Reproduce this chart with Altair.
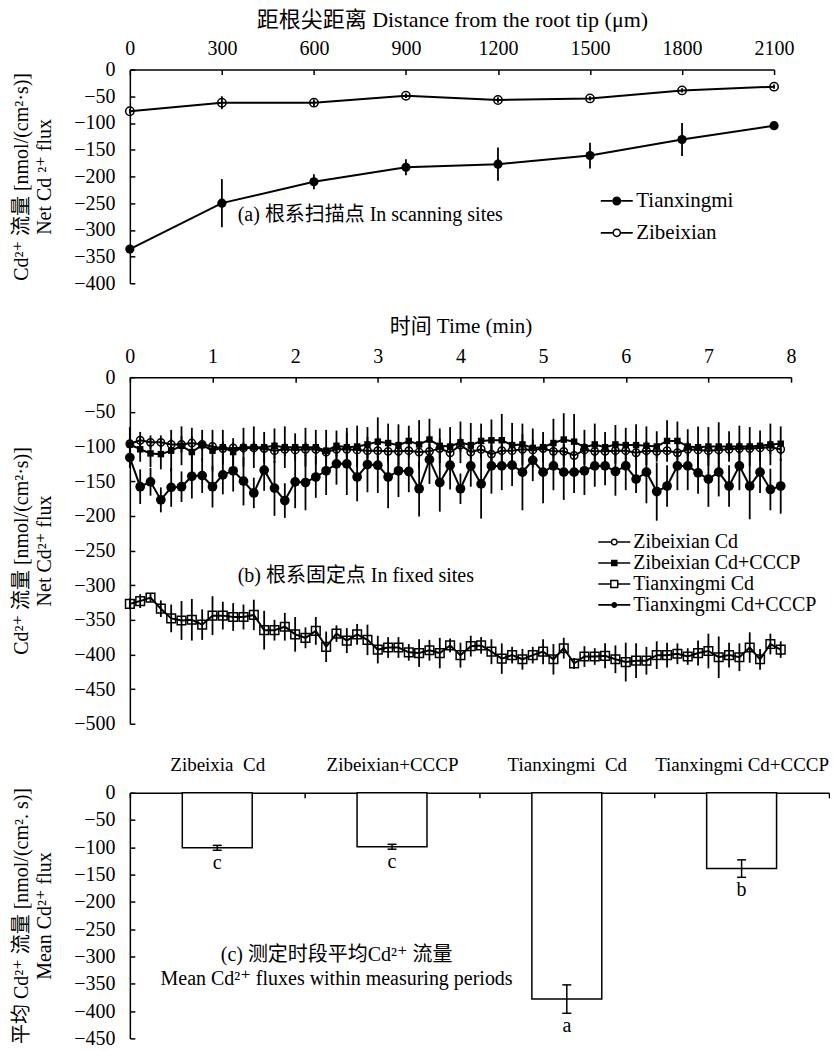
import altair as alt
import pandas as pd

FONT = "Liberation Serif, Noto Sans CJK SC, DejaVu Serif"
K = "#000000"

# ---------------- (a) scanning sites ----------------
a_dist = [0, 300, 600, 900, 1200, 1500, 1800, 2100]
a_tx = [-336, -250, -210, -183, -177, -161, -131, -105]
a_tx_err = [5, 45, 14, 15, 31, 24, 31, 5]
a_zb = [-78, -62, -62, -49, -57, -54, -39, -32]
a_zb_err = [4, 12, 6, 4, 5, 4, 4, 4]
a_series = ["Tianxingmi", "Zibeixian"]
a_yticks = [0, -50, -100, -150, -200, -250, -300, -350, -400]
a_xtitle = "距根尖距离 Distance from the root tip (μm)"
a_ytitle = ["Cd²⁺ 流量 [nmol/(cm²·s)]", "Net Cd ²⁺ flux"]
a_note = ["(a) 根系扫描点 In scanning sites"]

# ---------------- (b) fixed sites ----------------
b_time = [0.0, 0.125, 0.25, 0.375, 0.5, 0.625, 0.75, 0.875,
          1.0, 1.125, 1.25, 1.375, 1.5, 1.625, 1.75, 1.875,
          2.0, 2.125, 2.25, 2.375, 2.5, 2.625, 2.75, 2.875,
          3.0, 3.125, 3.25, 3.375, 3.5, 3.625, 3.75, 3.875,
          4.0, 4.125, 4.25, 4.375, 4.5, 4.625, 4.75, 4.875,
          5.0, 5.125, 5.25, 5.375, 5.5, 5.625, 5.75, 5.875,
          6.0, 6.125, 6.25, 6.375, 6.5, 6.625, 6.75, 6.875,
          7.0, 7.125, 7.25, 7.375, 7.5, 7.625, 7.75, 7.875]
b_zb_cd = [-96, -91, -94, -94, -97, -97, -95, -97,
           -100, -103, -102, -102, -102, -103, -106, -104,
           -105, -104, -104, -108, -104, -104, -105, -106,
           -106, -107, -107, -106, -108, -107, -103, -109,
           -98, -108, -104, -111, -106, -106, -104, -105,
           -103, -107, -107, -113, -105, -107, -107, -106,
           -106, -109, -106, -107, -106, -109, -104, -105,
           -106, -105, -104, -103, -103, -102, -101, -104]
b_zb_cd_err = [8, 12, 10, 10, 8, 12, 10, 8,
               6, 10, 8, 8, 10, 6, 12, 10,
               8, 10, 8, 6, 10, 12, 8, 10,
               10, 12, 8, 10, 8, 10, 15, 8,
               10, 8, 10, 12, 8, 10, 8, 6,
               10, 8, 10, 8, 10, 8, 10, 8,
               8, 10, 8, 10, 8, 6, 10, 8,
               10, 8, 10, 8, 10, 8, 10, 8]
b_zb_cccp = [-97, -104, -110, -111, -106, -99, -108, -98,
             -106, -101, -108, -101, -101, -101, -99, -101,
             -101, -101, -101, -106, -99, -101, -100, -97,
             -93, -95, -98, -92, -97, -90, -99, -100,
             -94, -98, -92, -91, -91, -98, -97, -102,
             -101, -95, -90, -93, -101, -97, -101, -97,
             -98, -98, -99, -100, -92, -92, -100, -101,
             -100, -100, -100, -100, -100, -99, -97, -96]
b_zb_cccp_err = [25, 18, 20, 22, 30, 28, 35, 22,
                 30, 25, 20, 28, 30, 22, 25, 30,
                 20, 28, 25, 30, 22, 28, 30, 25,
                 35, 28, 30, 22, 35, 30, 25, 28,
                 30, 32, 25, 30, 38, 32, 30, 28,
                 22, 35, 38, 40, 25, 30, 22, 28,
                 25, 30, 28, 22, 30, 28, 25, 30,
                 28, 35, 22, 30, 28, 22, 30, 25]
b_tx_cd = [-327, -323, -318, -334, -348, -351, -350, -357,
           -344, -344, -346, -346, -343, -365, -365, -360,
           -371, -376, -366, -389, -370, -380, -371, -379,
           -393, -390, -390, -397, -398, -394, -398, -387,
           -401, -388, -387, -396, -406, -401, -407, -401,
           -396, -407, -391, -413, -403, -403, -402, -407,
           -411, -409, -409, -401, -401, -399, -403, -398,
           -395, -404, -401, -404, -390, -407, -385, -393]
b_tx_cd_err = [8, 10, 6, 12, 20, 28, 30, 22,
               28, 20, 20, 18, 22, 28, 15, 20,
               25, 15, 20, 22, 12, 18, 15, 22,
               20, 15, 15, 12, 20, 15, 22, 10,
               18, 15, 12, 18, 22, 12, 15, 12,
               18, 22, 15, 8, 15, 12, 18, 20,
               28, 25, 20, 20, 18, 15, 12, 18,
               25, 30, 18, 20, 22, 15, 15, 12]
b_tx_cccp = [-116, -158, -151, -177, -159, -158, -143, -142,
             -158, -141, -135, -150, -167, -134, -160, -178,
             -151, -152, -144, -135, -125, -125, -144, -126,
             -127, -144, -135, -136, -161, -119, -152, -127,
             -161, -128, -154, -128, -128, -127, -137, -120,
             -137, -128, -137, -137, -135, -128, -128, -136,
             -128, -147, -137, -165, -157, -128, -128, -138,
             -147, -137, -157, -128, -157, -137, -162, -157]
b_tx_cccp_err = [15, 25, 20, 18, 28, 22, 32, 25,
                 30, 28, 30, 35, 22, 30, 40, 25,
                 38, 40, 30, 35, 30, 45, 35, 40,
                 40, 45, 38, 30, 40, 35, 42, 35,
                 22, 30, 50, 40, 35, 30, 55, 30,
                 45, 35, 40, 30, 35, 30, 28, 35,
                 35, 20, 45, 42, 30, 35, 35, 30,
                 40, 35, 30, 35, 48, 30, 30, 40]
b_series = ["Zibeixian Cd", "Zibeixian Cd+CCCP", "Tianxingmi Cd", "Tianxingmi Cd+CCCP"]
b_xticks = [0, 1, 2, 3, 4, 5, 6, 7, 8]
b_yticks = [0, -50, -100, -150, -200, -250, -300, -350, -400, -450, -500]
b_xtitle = "时间 Time (min)"
b_ytitle = ["Cd²⁺ 流量 [nmol/(cm²·s)]", "Net Cd²⁺ flux"]
b_note = ["(b) 根系固定点 In fixed sites"]

# ---------------- (c) mean fluxes ----------------
c_cats = ["Zibeixia\u00a0 Cd", "Zibeixian+CCCP", "Tianxingmi\u00a0 Cd", "Tianxingmi Cd+CCCP"]
c_means = [-101, -99, -378, -139]
c_errs = [4.5, 4.5, 26, 16]
c_letters = ["c", "c", "a", "b"]
c_yticks = [0, -50, -100, -150, -200, -250, -300, -350, -400, -450]
c_ytitle = ["平均 Cd²⁺ 流量 [nmol/(cm². s)]", "Mean Cd²⁺ flux"]
c_note = ["(c) 测定时段平均Cd²⁺ 流量\nMean Cd²⁺ fluxes within measuring periods"]


def long_df(x, names, vals, errs, col):
    rows = []
    for name, v, e in zip(names, vals, errs):
        for xi, vi, ei in zip(x, v, e):
            rows.append({"x": xi, "v": vi, "lo": vi - ei, "hi": vi + ei, col: name})
    return pd.DataFrame(rows)


# legend glyphs: a short line with a marker, drawn entirely as filled shapes
LW = 0.08
C0 = -0.6


def _lines(R):
    return (f"M-2.2,{-LW}H{C0 - R:.3f}V{LW}H-2.2Z"
            f"M{C0 + R:.3f},{-LW}H1V{LW}H{C0 + R:.3f}Z")


def circ_glyph(R, r=None):
    p = _lines(R) + (f"M{C0 + R:.3f},0A{R},{R},0,1,1,{C0 - R:.3f},0"
                     f"A{R},{R},0,1,1,{C0 + R:.3f},0Z")
    if r is not None:
        p += (f"M{C0 + r:.3f},0A{r},{r},0,1,0,{C0 - r:.3f},0"
              f"A{r},{r},0,1,0,{C0 + r:.3f},0Z")
    return p


def sq_glyph(H, h=None):
    p = _lines(H) + f"M{C0 - H:.3f},{-H:.3f}H{C0 + H:.3f}V{H:.3f}H{C0 - H:.3f}Z"
    if h is not None:
        p += f"M{C0 - h:.3f},{-h:.3f}V{h:.3f}H{C0 + h:.3f}V{-h:.3f}Z"
    return p


AX = dict(labelFont=FONT, titleFont=FONT, labelFontSize=20, titleFontSize=20,
          titleFontWeight="normal", labelColor=K, titleColor=K, domainColor=K,
          tickColor=K, domainWidth=1.5, tickWidth=1.5, grid=False,
          labelFlush=False, tickSize={"expr": "-5"})


def make_legend(x, y, rowpad, fs=20):
    return alt.Legend(title=None, orient="none", legendX=x, legendY=y,
                      labelFont=FONT, labelFontSize=fs, labelColor=K, labelLimit=400,
                      symbolSize=400, rowPadding=rowpad, labelOffset=3, padding=0,
                      symbolFillColor=K, symbolStrokeWidth=0)


def note_layer(text, x, y, align="left", lh=24):
    return alt.Chart(pd.DataFrame({"t": text})).mark_text(
        align=align, baseline="middle", fontSize=20, font=FONT, color=K,
        lineBreak="\n", lineHeight=lh).encode(
        x=alt.value(x), y=alt.value(y), text="t:N")


# ---------- panel a ----------
df_a = long_df(a_dist, a_series, [a_tx, a_zb], [a_tx_err, a_zb_err], "sa")
AXa = dict(AX)
AXa["titleFontSize"] = 22
xa = alt.X("x:Q", scale=alt.Scale(domain=[0, 2100], nice=False, zero=False),
           axis=alt.Axis(orient="top", values=a_dist, title=a_xtitle, format="d",
                         labelPadding=16, titlePadding=7, **AXa))
ax_ya = alt.Axis(values=a_yticks, title=a_ytitle, format="d", labelPadding=20,
                 titlePadding=19, titleLineHeight=23, **AX)
sc_ya = alt.Scale(domain=[-400, 0], nice=False)
ya = alt.Y("v:Q", scale=sc_ya, axis=ax_ya)

base_a = alt.Chart(df_a)
rules_a = base_a.mark_rule(color=K, strokeWidth=1.8).encode(
    x=xa, y=alt.Y("lo:Q", scale=sc_ya, axis=ax_ya), y2="hi:Q")
lines_a = base_a.mark_line(color=K, strokeWidth=2).encode(x=xa, y=ya, detail="sa:N")
pts_a1 = base_a.transform_filter(alt.datum.sa == a_series[0]).mark_point(
    shape="circle", filled=True, color=K, size=85, opacity=1).encode(x=xa, y=ya)
pts_a2 = base_a.transform_filter(alt.datum.sa == a_series[1]).mark_point(
    shape="circle", filled=False, color=K, strokeWidth=1.5, size=70, opacity=1).encode(x=xa, y=ya)
legend_a = base_a.transform_filter("false").mark_point(
    filled=True, color=K, strokeWidth=0, size=400, opacity=1).encode(
    x=xa, y=ya,
    shape=alt.Shape("sa:N", scale=alt.Scale(
        domain=a_series, range=[circ_glyph(0.45), circ_glyph(0.44, 0.29)]),
        legend=make_legend(483, 121, 10, 21)))
panel_a = alt.layer(rules_a, lines_a, pts_a1, pts_a2, legend_a,
                    note_layer(a_note, 108, 146)).properties(width=645, height=214)

# ---------- panel b ----------
df_b = long_df(b_time, b_series,
               [b_zb_cd, b_zb_cccp, b_tx_cd, b_tx_cccp],
               [b_zb_cd_err, b_zb_cccp_err, b_tx_cd_err, b_tx_cccp_err], "sb")
AXb = dict(AX)
AXb["titleFontSize"] = 21
xb = alt.X("x:Q", scale=alt.Scale(domain=[0, 8], nice=False, zero=False),
           axis=alt.Axis(orient="top", values=b_xticks, title=b_xtitle, format="d",
                         labelPadding=16, titlePadding=10, **AXb))
ax_yb = alt.Axis(values=b_yticks, title=b_ytitle, format="d", labelPadding=20,
                 titlePadding=19, titleLineHeight=23, **AX)
sc_yb = alt.Scale(domain=[-500, 0], nice=False)
yb = alt.Y("v:Q", scale=sc_yb, axis=ax_yb)

base_b = alt.Chart(df_b)
lines_b = base_b.mark_line(color=K, strokeWidth=2).encode(x=xb, y=yb, detail="sb:N")
rules_b = base_b.mark_rule(color=K, strokeWidth=1.8).encode(
    x=xb, y=alt.Y("lo:Q", scale=sc_yb, axis=ax_yb), y2="hi:Q")
pt_styles = [
    dict(shape="circle", filled=False, strokeWidth=1.5, size=55),
    dict(shape="square", filled=True, size=42),
    dict(shape="square", filled=False, strokeWidth=1.5, size=75),
    dict(shape="circle", filled=True, size=95),
]
pts_b = [base_b.transform_filter(alt.datum.sb == s).mark_point(color=K, opacity=1, **st)
         .encode(x=xb, y=yb) for s, st in zip(b_series, pt_styles)]
legend_b = base_b.transform_filter("false").mark_point(
    filled=True, color=K, strokeWidth=0, size=400, opacity=1).encode(
    x=xb, y=yb,
    shape=alt.Shape("sb:N", scale=alt.Scale(
        domain=b_series,
        range=[circ_glyph(0.36, 0.21), sq_glyph(0.33), sq_glyph(0.42, 0.27), circ_glyph(0.3)]),
        legend=make_legend(481, 155, 1)))
panel_b = alt.layer(lines_b, rules_b, *pts_b, legend_b,
                    note_layer(b_note, 108, 199)).properties(width=662, height=347)

# ---------- panel c ----------
df_c = pd.DataFrame({"cat": c_cats, "m": c_means, "e": c_errs, "letter": c_letters})
df_c["lo"] = df_c["m"] - df_c["e"]
df_c["hi"] = df_c["m"] + df_c["e"]
AXC = dict(AX)
AXC["labelFontSize"] = 19
xc = alt.X("cat:N", sort=c_cats,
           scale=alt.Scale(domain=c_cats, paddingInner=0, paddingOuter=0),
           axis=alt.Axis(orient="top", title=None, labelAngle=0, tickBand="extent",
                         labelPadding=23, **AXC))
ax_yc = alt.Axis(values=c_yticks, title=c_ytitle, format="d", labelPadding=20,
                 titlePadding=19, titleLineHeight=23, **AX)
sc_yc = alt.Scale(domain=[-450, 0], nice=False)

base_c = alt.Chart(df_c)
bars_c = base_c.mark_bar(fill="white", stroke=K, strokeWidth=1.5,
                         width={"band": 0.4}).encode(
    x=xc, y=alt.Y("m:Q", scale=sc_yc, axis=ax_yc))
err_c = base_c.mark_rule(color=K, strokeWidth=1.5).encode(
    x=xc, y=alt.Y("lo:Q", scale=sc_yc, axis=ax_yc), y2="hi:Q")
cap_lo = base_c.mark_tick(color=K, thickness=1.5, size=9, opacity=1).encode(
    x=xc, y=alt.Y("lo:Q", scale=sc_yc, axis=ax_yc))
cap_hi = base_c.mark_tick(color=K, thickness=1.5, size=9, opacity=1).encode(
    x=xc, y=alt.Y("hi:Q", scale=sc_yc, axis=ax_yc))
let_c = base_c.mark_text(baseline="middle", dy=13, fontSize=20, font=FONT, color=K).encode(
    x=xc, y=alt.Y("lo:Q", scale=sc_yc, axis=ax_yc), text="letter:N")
panel_c = alt.layer(bars_c, err_c, cap_lo, cap_hi, let_c,
                    note_layer(c_note, 207, 163, align="center")).properties(width=700, height=246)

chart = alt.vconcat(panel_a, panel_b, panel_c, spacing=22).resolve_scale(
    shape="independent"
).properties(
    padding={"left": 3, "top": 0, "right": 0, "bottom": 0}
).configure(font=FONT).configure_view(stroke=None)

chart.save("out.html", embed_options={"renderer": "svg", "actions": False})
